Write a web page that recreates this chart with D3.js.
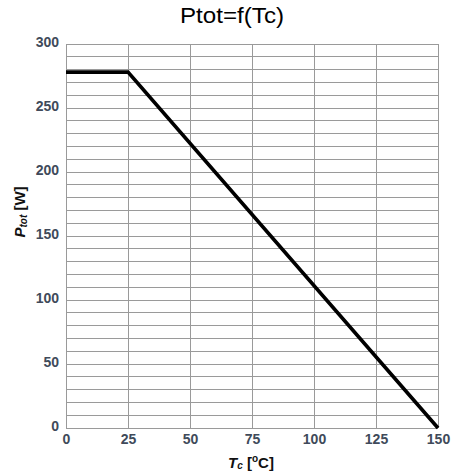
<!DOCTYPE html>
<html><head><meta charset="utf-8">
<script src="https://cdn.jsdelivr.net/npm/d3@7"></script>
<style>body{margin:0;background:#fff}</style>
</head><body>
<svg id="c" width="452" height="475"></svg>
<script>
const tempC = [0, 25, 150];
const ptotW = [278, 278, 0];
const xTicks = [0, 25, 50, 75, 100, 125, 150];
const yTicks = [0, 50, 100, 150, 200, 250, 300];
const yMinor = d3.range(0, 301, 10);

const svg = d3.select("#c");
const m = {l: 66, r: 14, t: 44, b: 47};
const W = 452, H = 475;
const x = d3.scaleLinear().domain([0, 150]).range([m.l, W - m.r]);
const y = d3.scaleLinear().domain([0, 300]).range([H - m.b, m.t]);
const grid = "#9a9a9a";
const tickCol = "#404a5a";
const font = "Arial, 'Liberation Sans', sans-serif";

svg.append("text").attr("x", 232).attr("y", 23).attr("text-anchor", "middle")
  .attr("font-family", font).attr("font-size", 22).attr("fill", "#000")
  .attr("textLength", 104).attr("lengthAdjust", "spacingAndGlyphs")
  .text("Ptot=f(Tc)");

const g = svg.append("g");
g.selectAll(".hl").data(yMinor).join("line")
  .attr("x1", m.l).attr("x2", W - m.r).attr("y1", d => y(d)).attr("y2", d => y(d))
  .attr("stroke", grid).attr("stroke-width", 1).attr("shape-rendering", "crispEdges");
g.selectAll(".vl").data(xTicks).join("line")
  .attr("x1", d => x(d)).attr("x2", d => x(d)).attr("y1", y(0)).attr("y2", y(300))
  .attr("stroke", grid).attr("stroke-width", 1).attr("shape-rendering", "crispEdges");

const xa = svg.append("g").attr("transform", `translate(0,${y(0)})`)
  .call(d3.axisBottom(x).tickValues(xTicks).tickSize(0).tickPadding(6).tickFormat(d3.format("d")));
xa.select(".domain").remove();
xa.selectAll("text").attr("font-family", font).attr("font-size", 14).attr("font-weight", "bold").attr("fill", tickCol);

const ya = svg.append("g").attr("transform", `translate(${m.l},0)`)
  .call(d3.axisLeft(y).tickValues(yTicks).tickSize(0).tickPadding(7).tickFormat(d3.format("d")));
ya.select(".domain").remove();
ya.selectAll("text").attr("font-family", font).attr("font-size", 14).attr("font-weight", "bold").attr("fill", tickCol)
  .attr("dy", "0.18em");

const pts = tempC.map((t, i) => [t, ptotW[i]]);
svg.append("path").datum(pts)
  .attr("d", d3.line().x(d => x(d[0])).y(d => y(d[1])))
  .attr("fill", "none").attr("stroke", "#000").attr("stroke-width", 3.6).attr("stroke-linejoin", "miter");

// x label
const xl = svg.append("text").attr("x", 251).attr("y", 468).attr("text-anchor", "middle")
  .attr("font-family", font).attr("font-size", 15).attr("font-weight", "bold").attr("fill", "#111");
xl.append("tspan").attr("font-style", "italic").text("T");
xl.append("tspan").attr("font-style", "italic").attr("font-size", 10).attr("dy", 1).text("c");
xl.append("tspan").attr("dy", -1).text(" [");
xl.append("tspan").attr("font-size", 10).attr("dy", -6).text("o");
xl.append("tspan").attr("dy", 6).text("C]");

// y label
const yl = svg.append("text").attr("transform", "translate(25,212) rotate(-90)").attr("text-anchor", "middle")
  .attr("font-family", font).attr("font-size", 15).attr("font-weight", "bold").attr("fill", "#111");
yl.append("tspan").attr("font-style", "italic").text("P");
yl.append("tspan").attr("font-style", "italic").attr("font-size", 10).attr("dy", 2).text("tot");
yl.append("tspan").attr("dy", -2).text(" [W]");
</script>
</body></html>
